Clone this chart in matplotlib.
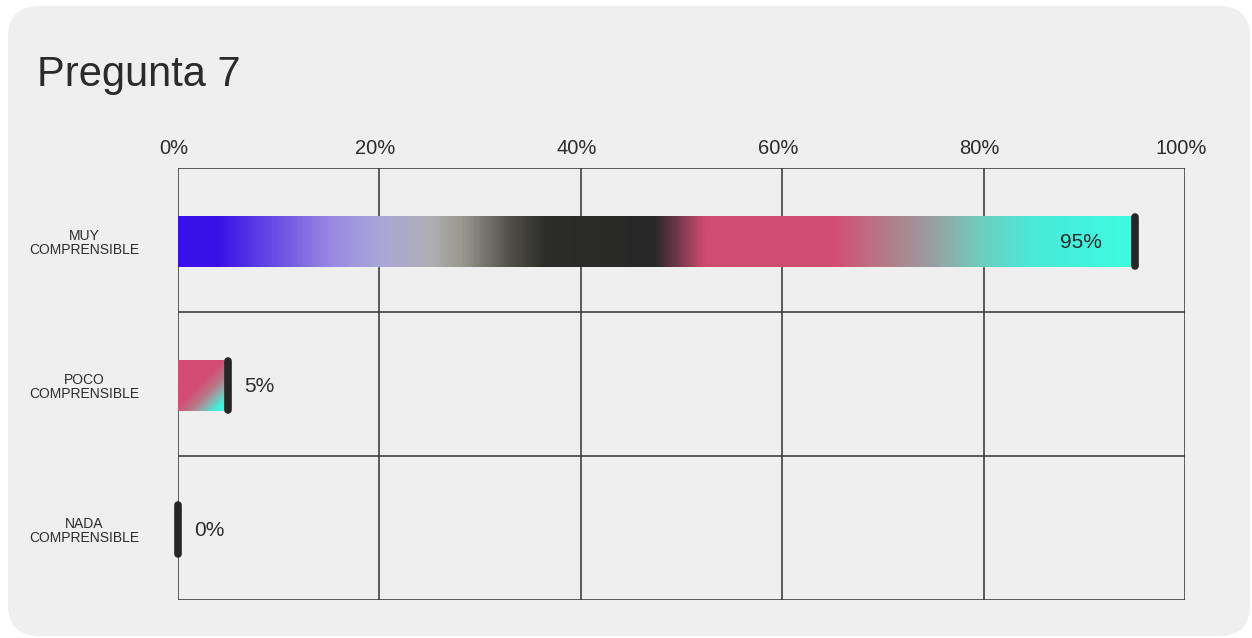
import numpy as np
import matplotlib
matplotlib.use("Agg")
import matplotlib.pyplot as plt
from matplotlib.colors import LinearSegmentedColormap
from matplotlib.patches import FancyBboxPatch
from matplotlib.transforms import ScaledTranslation, blended_transform_factory

# ---- data ----
title = "Pregunta 7"
categories = ["MUY\nCOMPRENSIBLE", "POCO\nCOMPRENSIBLE", "NADA\nCOMPRENSIBLE"]
values = [95, 5, 0]
x_ticks = [0, 20, 40, 60, 80, 100]
x_tick_labels = ["0%", "20%", "40%", "60%", "80%", "100%"]

# ---- styling ----
plt.rcParams["font.family"] = ["Liberation Sans", "DejaVu Sans"]
TEXT = "#2b2b2b"
GRID = "#333333"
CARD = "#efefef"

# horizontal multi-stop gradient for the long bar
long_stops = [
    (0.000, "#3a10ea"), (0.040, "#3812e8"), (0.160, "#9a8ae2"),
    (0.211, "#aaa6d8"), (0.263, "#afaeb4"), (0.295, "#9a9a90"),
    (0.347, "#505048"), (0.383, "#2c2c2a"), (0.498, "#282828"),
    (0.525, "#7a3a50"), (0.551, "#d04c72"), (0.684, "#d44c74"),
    (0.737, "#b67888"), (0.789, "#9a9ea0"), (0.838, "#70ccbc"),
    (0.893, "#4ae8d8"), (1.000, "#3cfce0"),
]
long_cmap = LinearSegmentedColormap.from_list("long", long_stops)

# diagonal pink -> cyan gradient for short bars
short_stops = [
    (0.00, "#d44c74"), (0.45, "#d44c74"), (0.62, "#b87888"),
    (0.74, "#8fb0ac"), (0.86, "#40f0dc"), (1.00, "#3cfce0"),
]
short_cmap = LinearSegmentedColormap.from_list("short", short_stops)

W, H, DPI = 1252, 638, 100
fig = plt.figure(figsize=(W / DPI, H / DPI), dpi=DPI, facecolor="white")

# rounded card behind everything
card = FancyBboxPatch(
    (8 / W, 1 - 636 / H), (1250 - 8) / W, (636 - 6) / H,
    boxstyle="round,pad=0,rounding_size=0.025",
    transform=fig.transFigure, facecolor=CARD, edgecolor="none",
    mutation_aspect=W / H, zorder=-10,
)
fig.patches.append(card)

fig.text(37 / W, 1 - 86 / H, title, fontsize=30, color=TEXT,
         ha="left", va="baseline")

ax = fig.add_axes([178 / W, 1 - 600 / H, 1007 / W, 432 / H])
ax.set_zorder(1)
ax.set_facecolor("none")
n = len(categories)
ax.set_xlim(0, 100)
ax.set_ylim(n, 0)

# grid
for x in x_ticks:
    ax.axvline(x, color=GRID, lw=1.1, zorder=1)
for i in range(n + 1):
    ax.axhline(i, color=GRID, lw=1.1, zorder=1)
for s in ax.spines.values():
    s.set_visible(False)

ax.xaxis.tick_top()
ax.set_xticks(x_ticks)
ax.set_xticklabels(x_tick_labels, fontsize=14.5, color=TEXT)
ax.tick_params(axis="x", length=0, pad=7)
shift = ScaledTranslation(-4 / DPI, 0, fig.dpi_scale_trans)
for lbl in ax.get_xticklabels():
    lbl.set_transform(lbl.get_transform() + shift)
ax.set_yticks([])

bar_h = 0.35
cap_half = 0.17
lab_tr = blended_transform_factory(ax.transAxes, ax.transData) + \
    ScaledTranslation(0, -3.5 / DPI, fig.dpi_scale_trans)
down = ScaledTranslation(0, -1.5 / DPI, fig.dpi_scale_trans)

for i, (cat, v) in enumerate(zip(categories, values)):
    c = i + 0.5
    ax.text(-0.093, c, cat, transform=lab_tr, ha="center", va="center",
            multialignment="center", fontsize=10, color=TEXT, linespacing=1.0)
    if v > 0:
        ext = [0, v, c + bar_h / 2, c - bar_h / 2]
        if v >= 50:
            grad = np.linspace(0, 1, 512)[None, :]
            im = ax.imshow(grad, cmap=long_cmap, extent=ext, aspect="auto",
                           interpolation="bilinear", zorder=2)
        else:
            xx, yy = np.meshgrid(np.linspace(0, 1, 200), np.linspace(0, 1, 200))
            im = ax.imshow((xx + yy) / 2, cmap=short_cmap, extent=ext,
                           aspect="auto", interpolation="bilinear", zorder=2,
                           vmin=0, vmax=1)
        im.set_transform(ax.transData + down)
    ax.plot([v, v], [c - cap_half, c + cap_half], color="#262626", lw=5.5,
            solid_capstyle="round", zorder=4, clip_on=False,
            transform=ax.transData + down)
    label = f"{v}%"
    if v >= 50:
        off = ScaledTranslation(-33 / DPI, -3 / DPI, fig.dpi_scale_trans)
        ax.text(v, c, label, ha="right", va="center", fontsize=15,
                color=TEXT, transform=ax.transData + off, zorder=5)
    else:
        off = ScaledTranslation(16 / DPI, -3 / DPI, fig.dpi_scale_trans)
        ax.text(v, c, label, ha="left", va="center", fontsize=15,
                color=TEXT, transform=ax.transData + off, zorder=5)

ax.set_xlim(0, 100)
ax.set_ylim(n, 0)

fig.savefig("out.png", dpi=DPI, facecolor="white")
